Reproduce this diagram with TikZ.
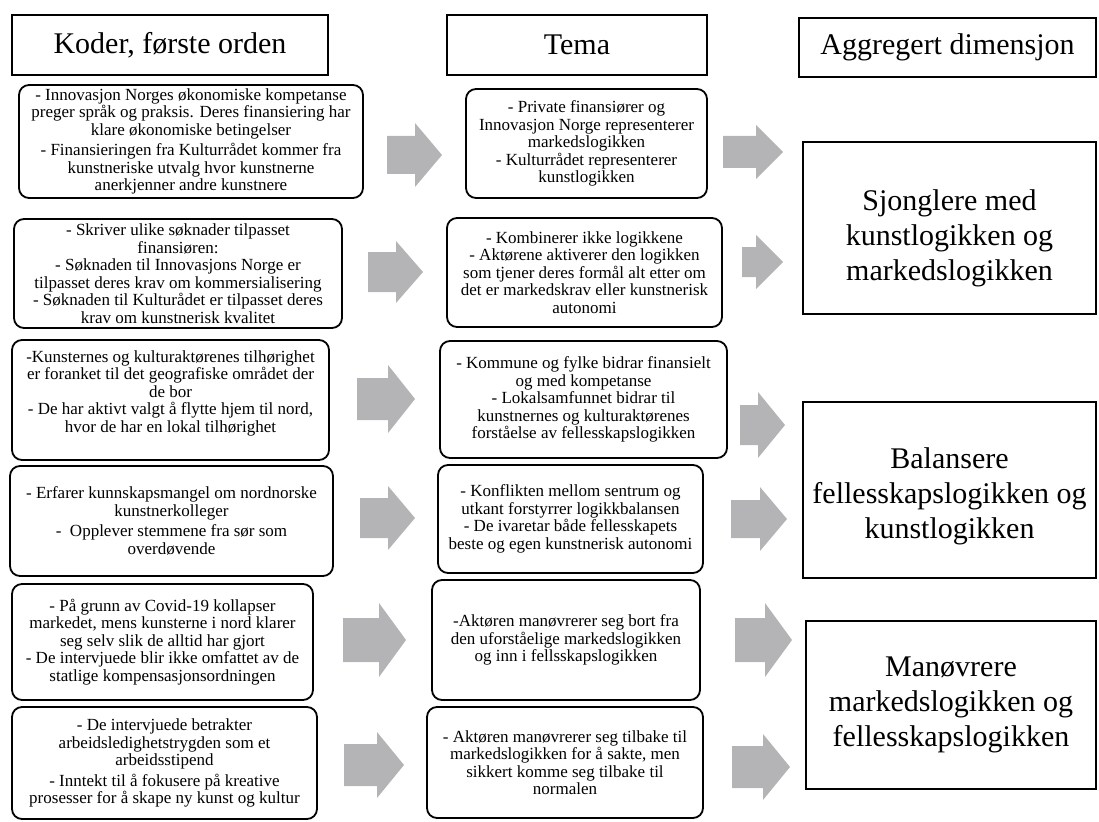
\documentclass[tikz,border=0pt]{standalone}
\usepackage{fontspec}
\setmainfont{Liberation Serif}
\usepackage{tikz}
\usetikzlibrary{positioning, calc}

\definecolor{arrowgray}{RGB}{180,180,183}
\newcommand{\garrow}[5]{\fill[arrowgray] (#1,{#3-#5}) -- ({#2-27},{#3-#5}) -- ({#2-27},{#3-#4}) -- (#2,#3) -- ({#2-27},{#3+#4}) -- ({#2-27},{#3+#5}) -- (#1,{#3+#5}) -- cycle;}

\tikzset{
	headbox/.style={draw, line width=1.3pt, inner sep=2pt, font=\fontsize{30}{34}\selectfont},
	codebox/.style={draw, line width=1.8pt, rounded corners=10pt, align=center, inner sep=2pt, font=\fontsize{17}{17.5}\selectfont},
	dimbox/.style={draw, line width=1.3pt, align=center, inner sep=2pt, font=\fontsize{30}{35}\selectfont}
}

\begin{document}
\begin{tikzpicture}[x=1pt, y=-1pt]
			\useasboundingbox (0,0) rectangle (1099,821);
			
			\node[headbox, minimum width=316pt, minimum height=60pt] (koder) at (170,45) {Koder, første orden};
			\node[headbox, minimum width=260pt, minimum height=60pt] (tema) at (577,45) {Tema};
			\node[headbox, minimum width=297pt, minimum height=59pt] (aggr) at (947.5,47.5) {Aggregert dimensjon};
			
			\node[codebox, minimum width=344pt, minimum height=113pt] (l1) at (191,141.5) {- Innovasjon Norges økonomiske kompetanse\\ preger språk og praksis. Deres finansiering har\\ klare økonomiske betingelser\\[3pt] - Finansieringen fra Kulturrådet kommer fra\\ kunstneriske utvalg hvor kunstnerne\\ anerkjenner andre kunstnere};
			\node[codebox, minimum width=328pt, minimum height=109pt] (l2) at (178,273.5) {- Skriver ulike søknader tilpasset\\ finansiøren:\\ - Søknaden til Innovasjons Norge er\\ tilpasset deres krav om kommersialisering\\ - Søknaden til Kulturådet er tilpasset deres\\ krav om kunstnerisk kvalitet};
			\node[codebox, minimum width=317pt, minimum height=120pt] (l3) at (170.5,400) {-Kunsternes og kulturaktørenes tilhørighet\\ er foranket til det geografiske området der\\ de bor\\ - De har aktivt valgt å flytte hjem til nord,\\ hvor de har en lokal tilhørighet\\ \mbox{}};
			\node[codebox, minimum width=323pt, minimum height=110pt] (l4) at (171.5,521) {- Erfarer kunnskapsmangel om nordnorske\\ kunstnerkolleger\\[3pt] -\ \ Opplever stemmene fra sør som\\ overdøvende};
			\node[codebox, minimum width=301pt, minimum height=116pt] (l5) at (162.5,642) {- På grunn av Covid-19 kollapser\\ markedet, mens kunsterne i nord klarer\\ seg selv slik de alltid har gjort\\ - De intervjuede blir ikke omfattet av de\\ statlige kompensasjonsordningen};
			\node[codebox, minimum width=305pt, minimum height=112pt] (l6) at (164.5,763) {- De intervjuede betrakter\\ arbeidsledighetstrygden som et\\ arbeidsstipend\\[3pt] - Inntekt til å fokusere på kreative\\ prosesser for å skape ny kunst og kultur};
			
			\node[codebox, minimum width=241pt, minimum height=109pt] (m1) at (586.5,143.5) {- Private finansiører og\\ Innovasjon Norge representerer\\ markedslogikken\\ - Kulturrådet representerer\\ kunstlogikken};
			\node[codebox, minimum width=275pt, minimum height=109pt] (m2) at (584.5,272.5) {- Kombinerer ikke logikkene\\ - Aktørene aktiverer den logikken\\ som tjener deres formål alt etter om\\ det er markedskrav eller kunstnerisk\\ autonomi};
			\node[codebox, minimum width=287pt, minimum height=117pt] (m3) at (583.5,399.5) {- Kommune og fylke bidrar finansielt\\ og med kompetanse\\ - Lokalsamfunnet bidrar til\\ kunstnernes og kulturaktørenes\\ forståelse av fellesskapslogikken};
			\node[codebox, minimum width=265pt, minimum height=108pt] (m4) at (570.5,519) {- Konflikten mellom sentrum og\\ utkant forstyrrer logikkbalansen\\ - De ivaretar både fellesskapets\\ beste og egen kunstnerisk autonomi};
			\node[codebox, minimum width=268pt, minimum height=120pt] (m5) at (566,640) {-Aktøren manøvrerer seg bort fra\\ den uforståelige markedslogikken\\ og inn i fellsskapslogikken};
			\node[codebox, minimum width=276pt, minimum height=111pt] (m6) at (565,762.5) {- Aktøren manøvrerer seg tilbake til\\ markedslogikken for å sakte, men\\ sikkert komme seg tilbake til\\ normalen};
			
			\node[dimbox, minimum width=293pt, minimum height=172pt] (sjong) at (949.5,228) {\rule{0pt}{41pt}Sjonglere med\\ kunstlogikken og\\ markedslogikken};
			\node[dimbox, minimum width=293pt, minimum height=176pt] (balans) at (949.5,490) {\rule{0pt}{33pt}Balansere\\ fellesskapslogikken og\\ kunstlogikken};
			\node[dimbox, minimum width=290pt, minimum height=168pt] (manov) at (951,705) {Manøvrere\\ markedslogikken og\\ fellesskapslogikken};
			
			\garrow{387}{442}{155}{32}{19}
			\garrow{368}{423}{272}{31}{20}
			\garrow{357}{415}{399}{34}{21}
			\garrow{360}{415}{518}{32}{20}
			\garrow{343}{406}{640}{37}{22}
			\garrow{344}{404}{765}{33}{21}
			
			\garrow{723}{783}{152}{27}{16}
			\garrow{742}{783}{262}{27}{15}
			\garrow{740}{785}{425}{33}{20}
			\garrow{731}{787}{519}{32}{19}
			\garrow{735}{792}{640}{37}{22}
			\garrow{732}{790}{767}{33}{21}
\end{tikzpicture}
\end{document}
